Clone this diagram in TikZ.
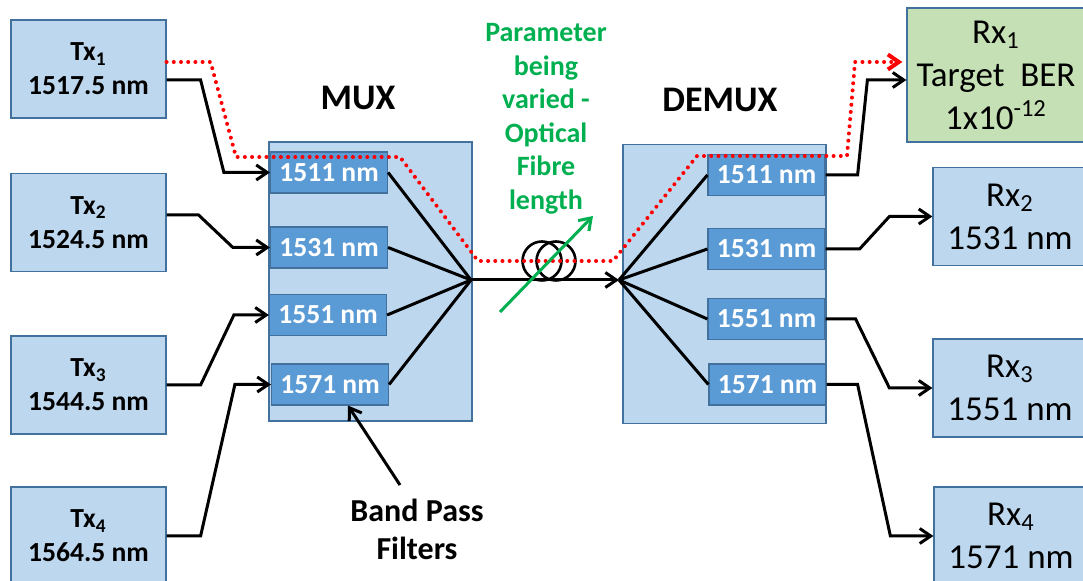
\documentclass[tikz,border=0pt]{standalone}
\usepackage{fontspec}
\setmainfont{Carlito}
\usetikzlibrary{arrows.meta,calc}
\definecolor{boxblue}{HTML}{BDD7EE}
\definecolor{edgeblue}{HTML}{41719C}
\definecolor{filtblue}{HTML}{5B9BD5}
\definecolor{rxgreen}{HTML}{C5E0B4}
\definecolor{paramgreen}{HTML}{00B050}
\tikzset{
  txbox/.style={draw=edgeblue, fill=boxblue, line width=0.6pt, minimum width=77.5pt, minimum height=49pt,
    align=center, inner sep=0pt, font=\fontsize{13.8}{17}\selectfont\bfseries},
  rxbox/.style={draw=edgeblue, fill=boxblue, line width=0.6pt, minimum width=77pt, minimum height=49pt,
    align=center, inner sep=0pt, font=\fontsize{17.5}{21.5}\selectfont},
  muxbox/.style={draw=edgeblue, fill=boxblue, line width=0.6pt, minimum width=101.5pt, minimum height=139.5pt},
  filt/.style={draw=edgeblue, fill=filtblue, line width=0.6pt, minimum width=58.5pt, minimum height=20.5pt,
    inner sep=0pt, text=white, font=\fontsize{13.8}{16}\selectfont\bfseries},
  link/.style={line width=1.5pt, -{Straight Barb[length=5.5pt,width=7.5pt]}},
  fan/.style={line width=1.5pt},
  redpath/.style={red, line width=2pt, dash pattern=on 0pt off 3.6pt, line cap=round,
    -{Straight Barb[length=5.5pt,width=7.5pt]}},
  coil/.style={circle, draw, line width=1.3pt, minimum size=19.5pt, inner sep=0pt},
}
\begin{document}
\begin{tikzpicture}[x=0.5pt, y=-0.5pt]
  \useasboundingbox (0,0) rectangle (1083,581);

  % transmitters
  \node[txbox] (tx1) at (88.5,69) {Tx\textsubscript{1}\\1517.5 nm};
  \node[txbox] (tx2) at (88.5,222.5) {Tx\textsubscript{2}\\1524.5 nm};
  \node[txbox] (tx3) at (88.5,385) {Tx\textsubscript{3}\\1544.5 nm};
  \node[txbox] (tx4) at (88.5,536) {Tx\textsubscript{4}\\1564.5 nm};

  % mux and demux
  \node[muxbox] (mux) at (370.5,281.5) {};
  \node[muxbox] (demux) at (724.5,284) {};
  \node[font=\fontsize{18}{22}\selectfont\bfseries] (muxlabel) at (358,98) {MUX};
  \node[font=\fontsize{18}{22}\selectfont\bfseries] (demuxlabel) at (720,100) {DEMUX};

  \node[filt] (f1) at (329,172.5) {1511 nm};
  \node[filt] (f2) at (329,247.5) {1531 nm};
  \node[filt] (f3) at (328,315) {1551 nm};
  \node[filt] (f4) at (330,384.5) {1571 nm};

  \node[filt] (g1) at (766.5,175) {1511 nm};
  \node[filt] (g2) at (766.5,249) {1531 nm};
  \node[filt] (g3) at (766.5,319) {1551 nm};
  \node[filt] (g4) at (767.5,384.5) {1571 nm};

  % receivers
  \node[rxbox, fill=rxgreen, minimum width=89pt, minimum height=67pt] (rx1) at (996,75)
    {Rx\textsubscript{1}\\Target\ \ BER\\1x10\textsuperscript{-12}};
  \node[rxbox] (rx2) at (1010,216.5) {Rx\textsubscript{2}\\1531 nm};
  \node[rxbox] (rx3) at (1010,388) {Rx\textsubscript{3}\\1551 nm};
  \node[rxbox] (rx4) at (1011,536) {Rx\textsubscript{4}\\1571 nm};

  % fibre
  \coordinate (muxhub) at (471,280);
  \coordinate (demuxhub) at (619,280);
  \node[coil] (coilA) at (542,261) {};
  \node[coil] (coilB) at (556,261) {};
  \draw[link] (muxhub) -- (demuxhub);
  \foreach \f in {f1,f2,f3,f4} \draw[fan] (\f.east) -- (muxhub);
  \foreach \g in {g1,g2,g3,g4} \draw[fan] (demuxhub) -- (\g.west);

  % tx to mux
  \draw[link] ([yshift=-5.5pt]tx1.east) -- ++(34,0) -- ($(f1.west)+(-46,0)$) -- (f1.west);
  \draw[link] ([yshift=3.75pt]tx2.east) -- ++(32,0) -- ($(f2.west)+(-37,0)$) -- (f2.west);
  \draw[link] (tx3.east) -- ++(34,0) -- ($(f3.west)+(-35,0)$) -- (f3.west);
  \draw[link] (tx4.east) -- ++(34,0) -- ($(f4.west)+(-36,0)$) -- (f4.west);

  % demux to rx
  \draw[link] (g1.east) -- ++(32,0) -- ($(rx1.west)+(-39,5)$) -- ([yshift=-2.5pt]rx1.west);
  \draw[link] (g2.east) -- ++(34,0) -- ($(rx2.west)+(-43,0)$) -- (rx2.west);
  \draw[link] (g3.east) -- ++(30,0) -- ($(rx3.west)+(-43,0)$) -- (rx3.west);
  \draw[link] (g4.east) -- ++(31,0) -- ($(rx4.west)+(-43,0)$) -- (rx4.west);

  % path of channel 1
  \draw[redpath] ([yshift=3.5pt]tx1.east) -- ++(44,0) -- (236,157) -- (400,157) -- (478,261)
    -- (613,261) -- (697,156) -- (847,156) -- (855,62) -- ([yshift=6.5pt,xshift=-2pt]rx1.west);

  % varied parameter
  \node[text=paramgreen, align=center, font=\fontsize{14}{16.75}\selectfont\bfseries] (param)
    at (546,119) {Parameter\\being\\varied -\\Optical\\Fibre\\length};
  \coordinate (paramtail) at (500,312);
  \coordinate (paramhead) at (593,216);
  \draw[link, paramgreen] (paramtail) -- (paramhead);

  % filters label
  \node[align=center, font=\fontsize{16}{19}\selectfont\bfseries] (bpf) at (417,529) {Band Pass\\Filters};
  \coordinate (bpftail) at (400,485);
  \draw[link] (bpftail) -- ([xshift=9pt]f4.south);
\end{tikzpicture}
\end{document}
